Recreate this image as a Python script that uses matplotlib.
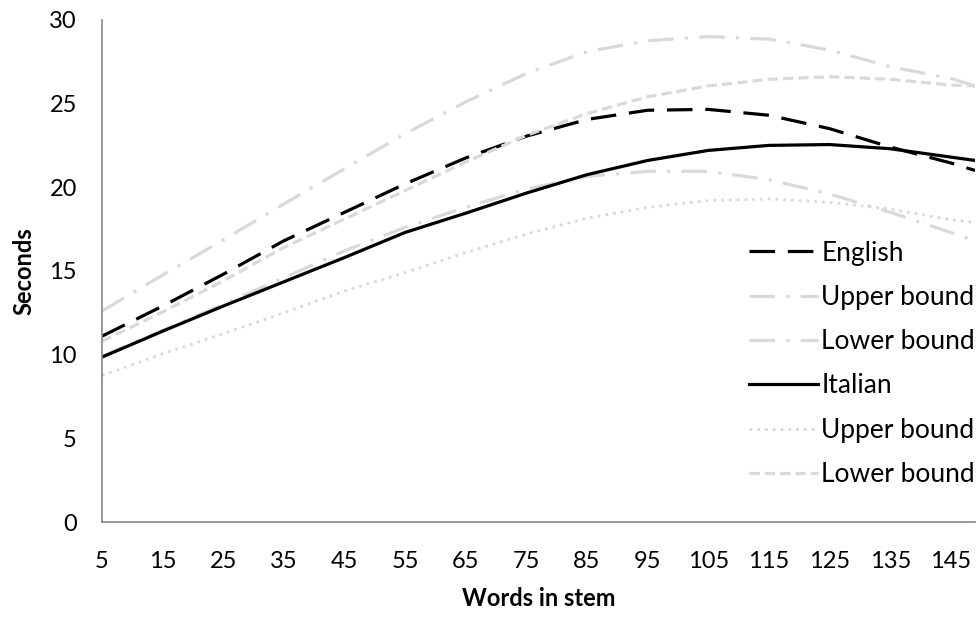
import matplotlib
matplotlib.use("Agg")
import matplotlib.pyplot as plt

# ── Data ──────────────────────────────────────────────────────────────────────
words = [5, 15, 25, 35, 45, 55, 65, 75, 85, 95, 105, 115, 125, 135, 145, 149]

english = [11.1, 12.9, 14.8, 16.8, 18.5, 20.2, 21.75, 23.05, 24.05, 24.6,
           24.65, 24.3, 23.5, 22.4, 21.45, 21.0]
english_upper = [12.6, 14.75, 16.85, 19.0, 21.1, 23.2, 25.1, 26.8, 28.1, 28.75,
                 29.0, 28.85, 28.2, 27.2, 26.5, 26.05]
english_lower = [9.9, 11.45, 13.0, 14.6, 16.2, 17.6, 18.8, 19.9, 20.65, 20.95,
                 20.95, 20.45, 19.6, 18.5, 17.3, 16.8]

italian = [9.85, 11.4, 12.9, 14.35, 15.8, 17.3, 18.45, 19.65, 20.75, 21.6,
           22.2, 22.5, 22.55, 22.3, 21.8, 21.6]
italian_upper = [8.75, 10.05, 11.25, 12.5, 13.8, 14.9, 16.1, 17.2, 18.15, 18.8,
                 19.2, 19.3, 19.1, 18.7, 18.05, 17.9]
italian_lower = [10.8, 12.55, 14.4, 16.4, 18.1, 19.8, 21.5, 23.1, 24.4, 25.4,
                 26.05, 26.45, 26.6, 26.45, 26.1, 26.05]

x_ticks = [5, 15, 25, 35, 45, 55, 65, 75, 85, 95, 105, 115, 125, 135, 145]
y_ticks = [0, 5, 10, 15, 20, 25, 30]

LIGHT = "#d9d9d9"
FS = 17

plt.rcParams["font.family"] = ["Lato", "DejaVu Sans"]

fig = plt.figure(figsize=(9.8, 6.2), dpi=100)
ax = fig.add_axes([0.104, 0.158, 0.891, 0.81])

ax.plot(words, english, color="black", lw=2.3, dashes=(8, 4), label="English")
ax.plot(words, english_upper, color=LIGHT, lw=2.3, dashes=(8, 3.5, 1, 3.5),
        label="Upper bound")
ax.plot(words, english_lower, color=LIGHT, lw=2.3, dashes=(8, 3.5, 1, 3.5),
        label="Lower bound")
ax.plot(words, italian, color="black", lw=2.3, label="Italian")
ax.plot(words, italian_upper, color=LIGHT, lw=2.0, dashes=(1, 1.8),
        label="Upper bound")
ax.plot(words, italian_lower, color=LIGHT, lw=2.3, dashes=(3.2, 1.6),
        label="Lower bound")

ax.set_xlim(5, 149)
ax.set_ylim(0, 30)
ax.set_xticks(x_ticks)
ax.set_yticks(y_ticks)
ax.tick_params(axis="both", length=0, labelsize=FS)
ax.tick_params(axis="x", pad=21)
ax.tick_params(axis="y", pad=18)

for side in ("top", "right"):
    ax.spines[side].set_visible(False)
for side in ("left", "bottom"):
    ax.spines[side].set_color("#868686")
    ax.spines[side].set_linewidth(1.2)

ax.set_xlabel("Words in stem", fontsize=FS, fontweight="bold", labelpad=11)
ax.set_ylabel("Seconds", fontsize=FS, fontweight="bold", labelpad=10)

ax.legend(loc="center right", bbox_to_anchor=(1.0, 0.315), frameon=False,
          fontsize=19, handlelength=2.6, handletextpad=0.15, labelspacing=0.73,
          borderaxespad=0, borderpad=0)

fig.savefig("out.png", dpi=100)
